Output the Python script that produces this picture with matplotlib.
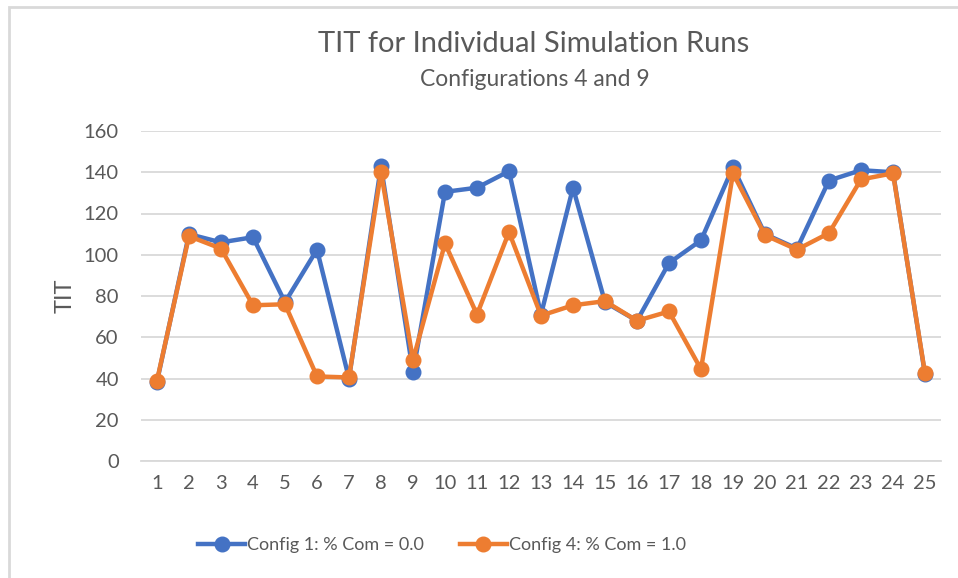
import matplotlib
matplotlib.use("Agg")
import matplotlib.pyplot as plt
from matplotlib.patches import Rectangle

runs = list(range(1, 26))
config1 = [38.5, 110, 106, 108.5, 77, 102.5, 40, 143, 43, 130.5, 132.5, 140.5, 71, 132.5,
           77, 68, 96, 107, 142.5, 110, 103, 136, 141, 140, 42]
config4 = [39, 109, 103, 75.5, 76, 41, 40.5, 140, 49, 105.5, 71, 111, 70.5, 75.5,
           77.5, 68, 72.5, 44.5, 139.5, 109.5, 102.5, 110.5, 136.5, 139.5, 42.5]
y_ticks = [0, 20, 40, 60, 80, 100, 120, 140, 160]

plt.rcParams['font.family'] = ['Lato', 'DejaVu Sans']
text_col = '#595959'

fig = plt.figure(figsize=(9.58, 5.78), dpi=100)
ax = fig.add_axes([141 / 958, 117 / 578, 800 / 958, 330 / 578])

# chart border like the excel chart area
fig.patches.append(Rectangle((8.5 / 958, -0.1), 2, (578 - 7.5) / 578 + 0.1,
                             transform=fig.transFigure, fill=False,
                             edgecolor='#d9d9d9', linewidth=2))

ax.plot(runs, config1, 'o-', color='#4472C4', linewidth=3.2, markersize=10.5,
        label='Config 1: % Com = 0.0', zorder=3)
ax.plot(runs, config4, 'o-', color='#ED7D31', linewidth=3.2, markersize=10.5,
        label='Config 4: % Com = 1.0', zorder=4)

ax.set_xlim(0.5, 25.5)
ax.set_ylim(0, 160)
ax.set_xticks(runs)
ax.set_yticks(y_ticks)
ax.grid(axis='y', color='#d9d9d9', linewidth=1.3)
ax.set_axisbelow(True)
for side in ['top', 'right', 'left']:
    ax.spines[side].set_visible(False)
ax.spines['bottom'].set_color('#d9d9d9')
ax.spines['bottom'].set_linewidth(1.3)
ax.tick_params(length=0, labelsize=14.5, labelcolor=text_col, pad=16)
ax.tick_params(axis='x', pad=10)

ax.set_ylabel('TIT', fontsize=17, color=text_col, labelpad=6)

fig.text(534 / 958, 1 - 44 / 578, 'TIT for Individual Simulation Runs',
         ha='center', va='center', fontsize=21, color=text_col)
fig.text(535 / 958, 1 - 79 / 578, 'Configurations 4 and 9',
         ha='center', va='center', fontsize=16.5, color=text_col)

ax.legend(loc='center', bbox_to_anchor=(442 / 958, 1 - 545 / 578),
          bbox_transform=fig.transFigure, ncol=2, frameon=False,
          fontsize=13, labelcolor=text_col, handlelength=2.6,
          handletextpad=0.1, columnspacing=2.0)

plt.savefig('out.png', dpi=100)
